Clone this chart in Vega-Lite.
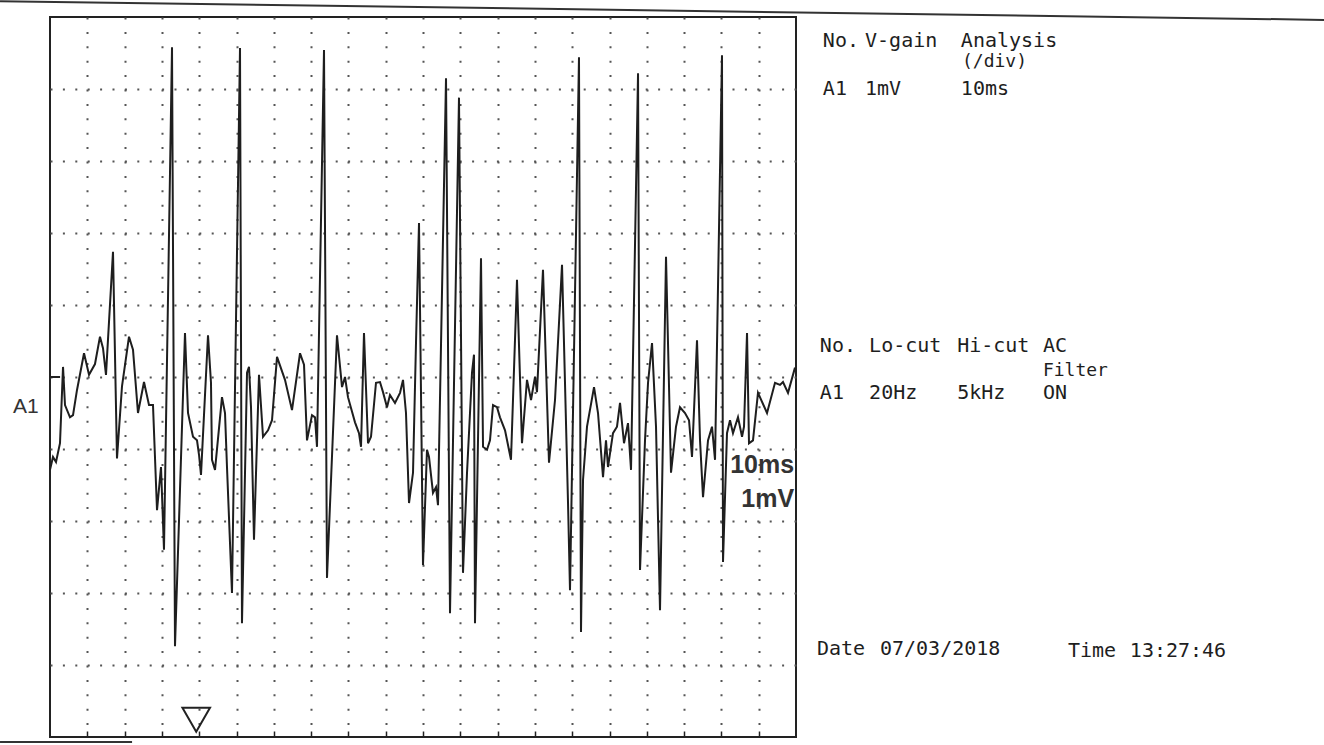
{
  "$schema": "https://vega.github.io/schema/vega-lite/v6.json",
  "width": 746,
  "height": 720,
  "autosize": {"type": "none"},
  "padding": {"left": 50, "top": 17, "right": 528, "bottom": 8},
  "background": "white",
  "config": {"view": {"stroke": "#222", "strokeWidth": 2}},
  "datasets": {
    "trace": [
      {"t": 0, "v": -1.29}, {"t": 0.8, "v": -1.11}, {"t": 1.61, "v": -1.18}, {"t": 2.68, "v": -0.92},
      {"t": 3.49, "v": 0.14}, {"t": 4.02, "v": -0.39}, {"t": 5.36, "v": -0.56}, {"t": 6.17, "v": -0.53},
      {"t": 7.24, "v": -0.18}, {"t": 9.12, "v": 0.33}, {"t": 10.46, "v": 0.03}, {"t": 12.06, "v": 0.18},
      {"t": 13.4, "v": 0.56}, {"t": 14.21, "v": 0.4}, {"t": 15.01, "v": 0.03}, {"t": 16.89, "v": 1.74},
      {"t": 17.96, "v": -1.13}, {"t": 19.3, "v": -0.13}, {"t": 21.18, "v": 0.56}, {"t": 22.25, "v": 0.38},
      {"t": 23.59, "v": -0.5}, {"t": 25.2, "v": -0.07}, {"t": 26.54, "v": -0.39}, {"t": 27.61, "v": -0.39},
      {"t": 28.69, "v": -1.85}, {"t": 29.76, "v": -1.25}, {"t": 30.56, "v": -2.4}, {"t": 32.71, "v": 4.58},
      {"t": 33.51, "v": -3.74}, {"t": 36.19, "v": 0.61}, {"t": 37.0, "v": -0.5}, {"t": 38.34, "v": -0.83},
      {"t": 39.41, "v": -0.88}, {"t": 39.95, "v": -1.08}, {"t": 40.48, "v": -1.36}, {"t": 42.36, "v": 0.58},
      {"t": 43.16, "v": -0.08}, {"t": 43.43, "v": -1.15}, {"t": 44.24, "v": -1.29}, {"t": 46.11, "v": -0.28},
      {"t": 46.92, "v": -0.5}, {"t": 47.45, "v": -1.25}, {"t": 48.79, "v": -3.0}, {"t": 50.94, "v": 4.57},
      {"t": 51.47, "v": -3.42}, {"t": 52.82, "v": 0.06}, {"t": 53.35, "v": 0.14}, {"t": 53.89, "v": -0.42},
      {"t": 54.69, "v": -2.26}, {"t": 56.03, "v": 0.03}, {"t": 57.11, "v": -0.83}, {"t": 58.45, "v": -0.74},
      {"t": 59.52, "v": -0.6}, {"t": 60.86, "v": 0.28}, {"t": 63.0, "v": -0.04}, {"t": 64.88, "v": -0.46},
      {"t": 67.03, "v": 0.33}, {"t": 68.1, "v": 0.17}, {"t": 68.9, "v": -0.88}, {"t": 70.24, "v": -0.53},
      {"t": 71.05, "v": -0.56}, {"t": 71.58, "v": -0.97}, {"t": 73.46, "v": 4.54}, {"t": 74.26, "v": -2.79},
      {"t": 76.94, "v": 0.58}, {"t": 78.29, "v": -0.14}, {"t": 79.09, "v": 0.0}, {"t": 79.89, "v": -0.28},
      {"t": 81.77, "v": -0.63}, {"t": 82.84, "v": -0.78}, {"t": 83.38, "v": -0.97}, {"t": 84.18, "v": 0.61},
      {"t": 85.26, "v": -0.92}, {"t": 86.06, "v": -0.83}, {"t": 87.4, "v": -0.08}, {"t": 88.47, "v": -0.07},
      {"t": 89.28, "v": -0.21}, {"t": 90.35, "v": -0.42}, {"t": 91.15, "v": -0.25}, {"t": 92.49, "v": -0.36},
      {"t": 93.84, "v": -0.22}, {"t": 94.64, "v": -0.04}, {"t": 95.44, "v": -0.5}, {"t": 96.25, "v": -1.75},
      {"t": 97.32, "v": -1.33}, {"t": 98.12, "v": 0.47}, {"t": 98.93, "v": 2.14}, {"t": 100.0, "v": -2.61},
      {"t": 101.07, "v": -1.01}, {"t": 101.61, "v": -1.11}, {"t": 102.68, "v": -1.61}, {"t": 103.49, "v": -1.53},
      {"t": 104.02, "v": -1.78}, {"t": 106.17, "v": 4.15}, {"t": 107.24, "v": -3.28}, {"t": 109.65, "v": 3.88},
      {"t": 110.72, "v": -2.72}, {"t": 111.8, "v": -1.33}, {"t": 113.14, "v": 0.06}, {"t": 113.67, "v": 0.31},
      {"t": 113.94, "v": -3.42}, {"t": 115.55, "v": 1.65}, {"t": 116.09, "v": -0.97}, {"t": 117.16, "v": -1.01},
      {"t": 117.96, "v": -0.88}, {"t": 118.77, "v": -0.39}, {"t": 119.84, "v": -0.42}, {"t": 120.64, "v": -0.56},
      {"t": 121.99, "v": -0.74}, {"t": 123.59, "v": -1.15}, {"t": 125.2, "v": 1.35}, {"t": 126.54, "v": -0.92},
      {"t": 127.88, "v": -0.04}, {"t": 128.96, "v": -0.32}, {"t": 130.03, "v": 0.0}, {"t": 130.56, "v": -0.21},
      {"t": 132.17, "v": 1.49}, {"t": 133.78, "v": -1.19}, {"t": 135.39, "v": -0.32}, {"t": 137.27, "v": 1.56},
      {"t": 138.88, "v": -1.75}, {"t": 139.41, "v": -2.96}, {"t": 141.82, "v": 4.44}, {"t": 142.36, "v": -3.54},
      {"t": 142.9, "v": -1.43}, {"t": 143.97, "v": -0.69}, {"t": 145.85, "v": -0.14}, {"t": 146.92, "v": -0.5},
      {"t": 148.26, "v": -1.39}, {"t": 149.06, "v": -0.88}, {"t": 149.6, "v": -1.25}, {"t": 150.94, "v": -0.78},
      {"t": 152.01, "v": -0.69}, {"t": 152.82, "v": -0.36}, {"t": 153.89, "v": -0.92}, {"t": 154.96, "v": -0.64},
      {"t": 155.77, "v": -1.29}, {"t": 157.65, "v": 4.22}, {"t": 158.18, "v": -2.68}, {"t": 159.52, "v": -0.88},
      {"t": 160.33, "v": -0.08}, {"t": 161.4, "v": 0.47}, {"t": 162.47, "v": -0.69}, {"t": 163.54, "v": -3.24},
      {"t": 165.15, "v": 1.67}, {"t": 166.49, "v": -1.33}, {"t": 167.83, "v": -0.69}, {"t": 168.9, "v": -0.42},
      {"t": 170.24, "v": -0.5}, {"t": 171.32, "v": -0.6}, {"t": 172.12, "v": -1.11}, {"t": 173.46, "v": 0.51},
      {"t": 174.27, "v": -0.88}, {"t": 175.07, "v": -1.67}, {"t": 176.41, "v": -0.88}, {"t": 177.48, "v": -0.69},
      {"t": 178.29, "v": -1.15}, {"t": 180.16, "v": 4.47}, {"t": 180.43, "v": -2.57}, {"t": 181.5, "v": -0.78},
      {"t": 182.31, "v": -0.6}, {"t": 183.11, "v": -0.78}, {"t": 184.45, "v": -0.56}, {"t": 185.53, "v": -0.83},
      {"t": 186.06, "v": -0.69}, {"t": 186.87, "v": 0.61}, {"t": 187.4, "v": -0.92}, {"t": 188.47, "v": -0.88},
      {"t": 189.81, "v": -0.22}, {"t": 192.23, "v": -0.5}, {"t": 194.37, "v": -0.08}, {"t": 195.71, "v": -0.11},
      {"t": 196.51, "v": -0.07}, {"t": 197.86, "v": -0.22}, {"t": 199.73, "v": 0.13}
    ],
    "info": [
      {"text": "No.", "t": 207.2, "v": 4.58, "kind": "main"},
      {"text": "V-gain", "t": 218.5, "v": 4.58, "kind": "main"},
      {"text": "Analysis", "t": 244.2, "v": 4.58, "kind": "main"},
      {"text": "(/div)", "t": 244.5, "v": 4.3, "kind": "sub"},
      {"text": "A1", "t": 207.2, "v": 3.92, "kind": "main"},
      {"text": "1mV", "t": 218.5, "v": 3.92, "kind": "main"},
      {"text": "10ms", "t": 244.2, "v": 3.92, "kind": "main"},
      {"text": "No.", "t": 206.4, "v": 0.35, "kind": "main"},
      {"text": "Lo-cut", "t": 219.6, "v": 0.35, "kind": "main"},
      {"text": "Hi-cut", "t": 243.2, "v": 0.35, "kind": "main"},
      {"text": "AC", "t": 266.2, "v": 0.35, "kind": "main"},
      {"text": "Filter", "t": 266.2, "v": 0.01, "kind": "sub"},
      {"text": "A1", "t": 206.4, "v": -0.31, "kind": "main"},
      {"text": "20Hz", "t": 219.6, "v": -0.31, "kind": "main"},
      {"text": "5kHz", "t": 243.2, "v": -0.31, "kind": "main"},
      {"text": "ON", "t": 266.2, "v": -0.31, "kind": "main"},
      {"text": "Date", "t": 205.6, "v": -3.86, "kind": "main"},
      {"text": "07/03/2018", "t": 222.5, "v": -3.86, "kind": "main"},
      {"text": "Time", "t": 272.9, "v": -3.89, "kind": "main"},
      {"text": "13:27:46", "t": 289.5, "v": -3.89, "kind": "main"}
    ],
    "scale": [
      {"text": "10ms", "t": 199.5, "v": -1.33},
      {"text": "1mV", "t": 199.5, "v": -1.81}
    ],
    "channel": [{"text": "A1", "t": -9.9, "v": -0.5}],
    "marker": [{"t": 39.2, "v": -4.76}],
    "zeroTick": [{"t": 0, "t2": 2.7, "v": 0}],
    "edges": [
      {"t": -13.4, "t2": 341.6, "v": 5.22, "v2": 4.96},
      {"t": -13.4, "t2": 22.0, "v": -5.07, "v2": -5.07}
    ]
  },
  "encoding": {
    "x": {
      "field": "t", "type": "quantitative",
      "scale": {"domain": [0, 200], "nice": false, "zero": false},
      "axis": {
        "values": [10, 20, 30, 40, 50, 60, 70, 80, 90, 100, 110, 120, 130, 140, 150, 160, 170, 180, 190],
        "title": null, "labels": false, "domain": false,
        "ticks": true, "tickSize": -6, "tickColor": "#222", "tickWidth": 1.5,
        "grid": true, "gridDash": [2, 12.4], "gridColor": "#555", "gridWidth": 2
      }
    },
    "y": {
      "field": "v", "type": "quantitative",
      "scale": {"domain": [-5, 5], "nice": false, "zero": false},
      "axis": {
        "values": [-4, -3, -2, -1, 0, 1, 2, 3, 4],
        "title": null, "labels": false, "domain": false, "ticks": false,
        "grid": true, "gridDash": [2, 10.4], "gridColor": "#555", "gridWidth": 2
      }
    }
  },
  "layer": [
    {
      "data": {"name": "trace"},
      "mark": {"type": "line", "color": "#1e1e1e", "strokeWidth": 2}
    },
    {
      "data": {"name": "zeroTick"},
      "mark": {"type": "rule", "color": "#222", "strokeWidth": 2},
      "encoding": {"x2": {"field": "t2"}}
    },
    {
      "data": {"name": "edges"},
      "mark": {"type": "rule", "color": "#333", "strokeWidth": 2},
      "encoding": {"x2": {"field": "t2"}, "y2": {"field": "v2"}}
    },
    {
      "data": {"name": "marker"},
      "mark": {"type": "point", "shape": "triangle-down", "filled": false, "size": 760, "stroke": "#222", "strokeWidth": 2, "opacity": 1}
    },
    {
      "data": {"name": "info"},
      "transform": [{"filter": "datum.kind === 'main'"}],
      "mark": {"type": "text", "align": "left", "baseline": "alphabetic", "font": "DejaVu Sans Mono", "fontSize": 20, "color": "#1e1e1e"},
      "encoding": {"text": {"field": "text"}}
    },
    {
      "data": {"name": "info"},
      "transform": [{"filter": "datum.kind === 'sub'"}],
      "mark": {"type": "text", "align": "left", "baseline": "alphabetic", "font": "DejaVu Sans Mono", "fontSize": 18, "color": "#1e1e1e"},
      "encoding": {"text": {"field": "text"}}
    },
    {
      "data": {"name": "scale"},
      "mark": {"type": "text", "align": "right", "baseline": "alphabetic", "font": "Liberation Sans", "fontWeight": "bold", "fontSize": 25, "color": "#333"},
      "encoding": {"text": {"field": "text"}}
    },
    {
      "data": {"name": "channel"},
      "mark": {"type": "text", "align": "left", "baseline": "alphabetic", "font": "Liberation Sans", "fontSize": 21, "color": "#333"},
      "encoding": {"text": {"field": "text"}}
    }
  ]
}
